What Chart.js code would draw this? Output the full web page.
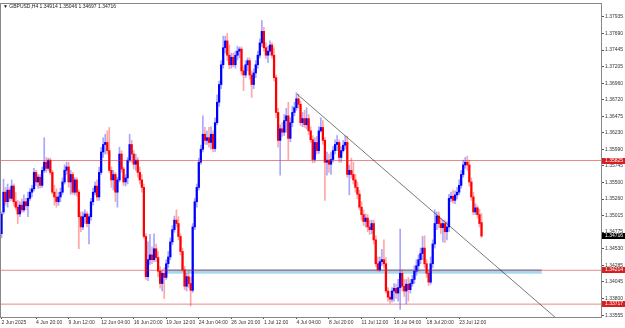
<!DOCTYPE html>
<html><head><meta charset="utf-8">
<script src="https://cdn.jsdelivr.net/npm/chart.js@4.4.1/dist/chart.umd.min.js"></script>
<style>html,body{margin:0;padding:0;background:#fff;overflow:hidden}canvas{display:block}</style>
</head><body>
<canvas id="c" width="625" height="328" style="width:625px;height:328px"></canvas>
<script>
const symbolTitle = '\u25BC GBPUSD,H4 1.34914 1.35046 1.34697 1.34716';

const open = [1.3475,1.3507,1.3536,1.3522,1.3539,1.3527,1.3545,1.3522,1.3514,1.3504,1.3517,1.3510,1.3522,1.3516,1.3527,1.3536,1.3541,1.3565,1.3551,1.3558,
1.3546,1.3568,1.3580,1.3571,1.3583,1.3565,1.3536,1.3529,1.3522,1.3529,1.3536,1.3551,1.3568,1.3573,1.3551,1.3562,1.3536,1.3554,1.3536,1.3500,
1.3485,1.3500,1.3504,1.3490,1.3500,1.3522,1.3536,1.3545,1.3529,1.3565,1.3595,1.3606,1.3609,1.3597,1.3568,1.3554,1.3562,1.3536,1.3554,1.3592,
1.3570,1.3551,1.3557,1.3583,1.3606,1.3592,1.3577,1.3583,1.3565,1.3554,1.3543,1.3471,1.3412,1.3437,1.3444,1.3437,1.3453,1.3440,1.3420,1.3402,
1.3417,1.3411,1.3431,1.3441,1.3463,1.3481,1.3495,1.3490,1.3471,1.3449,1.3422,1.3398,1.3412,1.3402,1.3392,1.3485,1.3522,1.3543,1.3580,1.3599,
1.3621,1.3612,1.3616,1.3609,1.3621,1.3600,1.3638,1.3668,1.3694,1.3723,1.3748,1.3758,1.3737,1.3723,1.3734,1.3723,1.3737,1.3743,1.3746,1.3714,
1.3708,1.3723,1.3729,1.3708,1.3694,1.3711,1.3723,1.3737,1.3755,1.3772,1.3748,1.3737,1.3743,1.3752,1.3737,1.3704,1.3653,1.3612,1.3629,1.3624,
1.3641,1.3648,1.3615,1.3638,1.3653,1.3660,1.3673,1.3665,1.3638,1.3644,1.3635,1.3644,1.3626,1.3613,1.3584,1.3609,1.3597,1.3626,1.3631,1.3612,
1.3580,1.3583,1.3577,1.3584,1.3597,1.3606,1.3609,1.3587,1.3597,1.3605,1.3609,1.3562,1.3568,1.3562,1.3554,1.3543,1.3533,1.3514,1.3503,1.3493,
1.3498,1.3485,1.3481,1.3490,1.3466,1.3431,1.3422,1.3434,1.3437,1.3431,1.3391,1.3382,1.3379,1.3391,1.3395,1.3388,1.3396,1.3417,1.3398,1.3391,
1.3401,1.3393,1.3402,1.3408,1.3420,1.3428,1.3437,1.3446,1.3454,1.3431,1.3417,1.3404,1.3431,1.3460,1.3490,1.3501,1.3490,1.3484,1.3490,1.3478,
1.3485,1.3527,1.3530,1.3524,1.3532,1.3536,1.3546,1.3562,1.3576,1.3580,1.3576,1.3551,1.3529,1.3507,1.3513,1.3503,1.34914];

const high = [1.3507,1.3555,1.3543,1.3548,1.3543,1.3554,1.3548,1.3536,1.3524,1.3522,1.3526,1.3532,1.3527,1.3536,1.3541,1.3546,1.3571,1.3568,1.3562,1.3562,
1.3573,1.3616,1.3587,1.3586,1.3586,1.3568,1.3546,1.3541,1.3536,1.3542,1.3557,1.3576,1.3580,1.3580,1.3568,1.3565,1.3558,1.3557,1.3539,1.3507,
1.3507,1.3510,1.3507,1.3504,1.3527,1.3542,1.3551,1.3554,1.3573,1.3602,1.3616,1.3621,1.3626,1.3631,1.3573,1.3568,1.3565,1.3558,1.3602,1.3597,
1.3573,1.3562,1.3587,1.3621,1.3612,1.3597,1.3592,1.3587,1.3573,1.3562,1.3548,1.3475,1.3463,1.3474,1.3456,1.3475,1.3460,1.3449,1.3427,1.3422,
1.3425,1.3437,1.3449,1.3469,1.3487,1.3501,1.3510,1.3500,1.3475,1.3454,1.3427,1.3417,1.3420,1.3411,1.3490,1.3527,1.3548,1.3586,1.3605,1.3648,
1.3631,1.3626,1.3631,1.3632,1.3626,1.3645,1.3679,1.3699,1.3729,1.3765,1.3765,1.3769,1.3752,1.3740,1.3740,1.3743,1.3750,1.3749,1.3749,1.3721,
1.3729,1.3733,1.3733,1.3714,1.3717,1.3729,1.3743,1.3761,1.3788,1.3778,1.3755,1.3750,1.3758,1.3755,1.3748,1.3708,1.3659,1.3635,1.3638,1.3650,
1.3659,1.3668,1.3645,1.3662,1.3668,1.3682,1.3680,1.3670,1.3653,1.3656,1.3660,1.3650,1.3632,1.3619,1.3616,1.3618,1.3632,1.3645,1.3641,1.3616,
1.3595,1.3592,1.3595,1.3603,1.3613,1.3619,1.3613,1.3603,1.3612,1.3619,1.3618,1.3576,1.3586,1.3580,1.3562,1.3551,1.3539,1.3522,1.3510,1.3504,
1.3503,1.3495,1.3495,1.3495,1.3472,1.3441,1.3441,1.3452,1.3466,1.3440,1.3396,1.3391,1.3396,1.3402,1.3401,1.3408,1.3482,1.3422,1.3408,1.3408,
1.3411,1.3408,1.3414,1.3428,1.3437,1.3444,1.3454,1.3471,1.3472,1.3437,1.3422,1.3441,1.3466,1.3510,1.3507,1.3507,1.3498,1.3495,1.3495,1.3493,
1.3533,1.3536,1.3539,1.3538,1.3543,1.3554,1.3568,1.3583,1.3587,1.3589,1.3583,1.3557,1.3536,1.3519,1.3516,1.3511,1.35046];

const low = [1.3469,1.3504,1.3517,1.3514,1.3522,1.3524,1.3516,1.3510,1.3490,1.3500,1.3506,1.3507,1.3510,1.3500,1.3524,1.3529,1.3538,1.3546,1.3542,1.3542,
1.3543,1.3565,1.3565,1.3568,1.3562,1.3533,1.3517,1.3514,1.3517,1.3522,1.3533,1.3548,1.3562,1.3543,1.3533,1.3533,1.3532,1.3530,1.3453,1.3478,
1.3481,1.3490,1.3485,1.3460,1.3495,1.3517,1.3532,1.3524,1.3524,1.3562,1.3587,1.3592,1.3592,1.3565,1.3543,1.3539,1.3522,1.3514,1.3551,1.3565,
1.3546,1.3545,1.3548,1.3580,1.3580,1.3570,1.3568,1.3558,1.3548,1.3536,1.3468,1.3408,1.3406,1.3430,1.3431,1.3434,1.3434,1.3412,1.3395,1.3391,
1.3380,1.3408,1.3425,1.3437,1.3459,1.3477,1.3485,1.3466,1.3444,1.3420,1.3393,1.3391,1.3396,1.3369,1.3389,1.3481,1.3514,1.3539,1.3577,1.3595,
1.3606,1.3606,1.3602,1.3599,1.3595,1.3596,1.3635,1.3662,1.3688,1.3718,1.3740,1.3729,1.3717,1.3718,1.3720,1.3718,1.3730,1.3733,1.3708,1.3685,
1.3704,1.3714,1.3702,1.3675,1.3688,1.3704,1.3718,1.3733,1.3750,1.3743,1.3732,1.3726,1.3737,1.3733,1.3699,1.3645,1.3602,1.3561,1.3618,1.3619,
1.3624,1.3584,1.3610,1.3632,1.3648,1.3656,1.3659,1.3634,1.3632,1.3631,1.3629,1.3621,1.3609,1.3579,1.3580,1.3592,1.3593,1.3624,1.3606,1.3524,
1.3561,1.3565,1.3562,1.3580,1.3592,1.3597,1.3580,1.3580,1.3595,1.3599,1.3558,1.3532,1.3557,1.3548,1.3536,1.3526,1.3510,1.3495,1.3487,1.3485,
1.3478,1.3474,1.3475,1.3460,1.3427,1.3420,1.3420,1.3428,1.3425,1.3388,1.3376,1.3373,1.3375,1.3376,1.3380,1.3376,1.3364,1.3391,1.3383,1.3372,
1.3376,1.3388,1.3398,1.3402,1.3414,1.3420,1.3431,1.3437,1.3425,1.3411,1.3399,1.3401,1.3425,1.3454,1.3481,1.3484,1.3475,1.3463,1.3462,1.3466,
1.3478,1.3522,1.3520,1.3519,1.3526,1.3532,1.3542,1.3558,1.3571,1.3568,1.3545,1.3524,1.3503,1.3503,1.3498,1.3485,1.34697];

const close = [1.3504,1.3536,1.3522,1.3539,1.3527,1.3545,1.3522,1.3514,1.3504,1.3517,1.3510,1.3522,1.3516,1.3527,1.3536,1.3541,1.3565,1.3551,1.3558,1.3546,
1.3568,1.3580,1.3571,1.3583,1.3565,1.3536,1.3529,1.3522,1.3529,1.3536,1.3551,1.3568,1.3573,1.3551,1.3562,1.3536,1.3554,1.3536,1.3500,1.3485,
1.3500,1.3504,1.3490,1.3500,1.3522,1.3536,1.3545,1.3529,1.3565,1.3595,1.3606,1.3609,1.3597,1.3568,1.3554,1.3562,1.3536,1.3554,1.3592,1.3570,
1.3551,1.3557,1.3583,1.3606,1.3592,1.3577,1.3583,1.3565,1.3554,1.3543,1.3471,1.3412,1.3437,1.3444,1.3437,1.3453,1.3440,1.3420,1.3402,1.3417,
1.3411,1.3431,1.3441,1.3463,1.3481,1.3495,1.3490,1.3471,1.3449,1.3422,1.3398,1.3412,1.3402,1.3392,1.3485,1.3522,1.3543,1.3580,1.3599,1.3621,
1.3612,1.3616,1.3609,1.3621,1.3600,1.3638,1.3668,1.3694,1.3723,1.3748,1.3758,1.3737,1.3723,1.3734,1.3723,1.3737,1.3743,1.3746,1.3714,1.3708,
1.3723,1.3729,1.3708,1.3694,1.3711,1.3723,1.3737,1.3755,1.3772,1.3748,1.3737,1.3743,1.3752,1.3737,1.3704,1.3653,1.3612,1.3629,1.3624,1.3641,
1.3648,1.3615,1.3638,1.3653,1.3660,1.3673,1.3665,1.3638,1.3644,1.3635,1.3644,1.3626,1.3613,1.3584,1.3609,1.3597,1.3626,1.3631,1.3612,1.3580,
1.3583,1.3577,1.3584,1.3597,1.3606,1.3609,1.3587,1.3597,1.3605,1.3609,1.3562,1.3568,1.3562,1.3554,1.3543,1.3533,1.3514,1.3503,1.3493,1.3498,
1.3485,1.3481,1.3490,1.3466,1.3431,1.3422,1.3434,1.3437,1.3431,1.3391,1.3382,1.3379,1.3391,1.3395,1.3388,1.3396,1.3417,1.3398,1.3391,1.3401,
1.3393,1.3402,1.3408,1.3420,1.3428,1.3437,1.3446,1.3454,1.3431,1.3417,1.3404,1.3431,1.3460,1.3490,1.3501,1.3490,1.3484,1.3490,1.3478,1.3485,
1.3527,1.3530,1.3524,1.3532,1.3536,1.3546,1.3562,1.3576,1.3580,1.3576,1.3551,1.3529,1.3507,1.3513,1.3503,1.3490,1.34716];

const xTickIndex = [0,17,33,49,65,81,97,113,129,145,161,177,193,209,225];
const xTickLabels = ['2 Jun 2025','4 Jun 20:00','9 Jun 12:00','12 Jun 04:00','16 Jun 20:00','19 Jun 12:00','24 Jun 04:00','26 Jun 20:00','1 Jul 12:00','4 Jul 04:00','8 Jul 20:00','11 Jul 12:00','16 Jul 04:00','18 Jul 20:00','23 Jul 12:00'];
const yTickValues = [1.37935,1.37690,1.37445,1.37205,1.36960,1.36720,1.36475,1.36230,1.35990,1.35745,1.35500,1.35260,1.35015,1.34775,1.34530,1.34285,1.34045,1.33800,1.33555];

const levelLines = [1.35825, 1.34214, 1.33717];
const zoneBars = [81, 265.6];
const zonePrices = [1.34164, 1.34225];
const trendBars = [145.3, 280];
const trendPrices = [1.36799, 1.33323];

const xMin = -0.246, xMax = 294.74;
const yMin = 1.335285, yMax = 1.381215;
const FONT = "'Liberation Sans', Arial, sans-serif";

const bull = close.map((c, i) => c >= open[i]);
const bodyColors = bull.map(b => b ? '#0000ff' : '#ff0000');
const wickColors = bull.map(b => b ? 'rgba(80,80,255,0.5)' : 'rgba(255,80,80,0.5)');

const datasets = [
  { type: 'bar', label: 'wick', data: close.map((c, i) => ({ x: i, y: [low[i], high[i]] })),
    backgroundColor: wickColors, barThickness: 1, grouped: false, order: 3, borderWidth: 0 },
  { type: 'bar', label: 'body', data: close.map((c, i) => ({ x: i, y: [open[i], c] })),
    backgroundColor: bodyColors, barThickness: 1.6, grouped: false, order: 2, borderWidth: 0, minBarLength: 1 }
];
levelLines.forEach(v => datasets.push({
  type: 'line', data: [{ x: xMin, y: v }, { x: xMax, y: v }],
  borderColor: 'rgba(215,40,40,0.55)', borderWidth: 1, pointRadius: 0, order: 1
}));
datasets.push({
  type: 'line', data: trendBars.map((b, i) => ({ x: b, y: trendPrices[i] })),
  borderColor: 'rgba(30,30,30,0.75)', borderWidth: 0.8, pointRadius: 0, order: 0
});

const decor = {
  id: 'decor',
  beforeDatasetsDraw(chart) {
    const { ctx, chartArea: a, scales: { x, y } } = chart;
    ctx.save();
    ctx.beginPath(); ctx.rect(a.left, a.top, a.right - a.left, a.bottom - a.top); ctx.clip();
    const x0 = x.getPixelForValue(zoneBars[0]), x1 = x.getPixelForValue(zoneBars[1]);
    const yT = y.getPixelForValue(zonePrices[1]), yB = y.getPixelForValue(zonePrices[0]);
    ctx.fillStyle = '#a3d8f4';
    ctx.fillRect(x0, yT, x1 - x0, yB - yT);
    ctx.fillStyle = 'rgba(70,120,160,0.6)';
    ctx.fillRect(x0, yT, x1 - x0, 1);
    ctx.restore();
  },
  afterDraw(chart) {
    const { ctx, chartArea: a, scales: { y } } = chart;
    ctx.save();
    ctx.strokeStyle = '#888'; ctx.lineWidth = 1;
    ctx.strokeRect(a.left - 0.5, a.top - 0.5, a.right - a.left + 1, a.bottom - a.top + 1);
    ctx.font = '5px ' + FONT;
    ctx.textBaseline = 'middle'; ctx.textAlign = 'left';
    const box = (v, bg) => {
      const yy = y.getPixelForValue(v);
      ctx.fillStyle = bg; ctx.fillRect(a.right + 1, Math.round(yy) - 3, 23, 6);
      ctx.fillStyle = '#fff'; ctx.fillText(v.toFixed(5), a.right + 4, Math.round(yy));
    };
    levelLines.forEach(v => box(v, '#d42020'));
    box(close[close.length - 1], '#000');
    ctx.fillStyle = '#222'; ctx.font = '5px ' + FONT; ctx.textBaseline = 'middle';
    ctx.fillText(symbolTitle, 3, 6.5);
    ctx.restore();
  }
};

new Chart(document.getElementById('c'), {
  type: 'bar',
  data: { datasets },
  plugins: [decor],
  options: {
    responsive: false, animation: false, devicePixelRatio: 1,
    layout: { padding: { left: 1, top: 1, right: 0, bottom: 0 } },
    plugins: { legend: { display: false }, tooltip: { enabled: false }, title: { display: false } },
    scales: {
      x: {
        type: 'linear', min: xMin, max: xMax, offset: false,
        afterBuildTicks: s => { s.ticks = xTickIndex.map(v => ({ value: v })); },
        afterFit: s => { s.height = 11; },
        ticks: { autoSkip: false, maxRotation: 0, minRotation: 0, align: 'start', padding: 1,
                 font: { size: 5, family: FONT }, color: '#333', callback: (v, i) => xTickLabels[i] },
        grid: { drawOnChartArea: false, drawTicks: true, tickLength: 2, color: '#555', offset: false },
        border: { display: false }
      },
      y: {
        type: 'linear', position: 'right', min: yMin, max: yMax,
        afterBuildTicks: s => { s.ticks = yTickValues.map(v => ({ value: v })); },
        afterFit: s => { s.width = 24; },
        ticks: { padding: 1, font: { size: 5, family: FONT }, color: '#333', callback: v => v.toFixed(5) },
        grid: { drawOnChartArea: false, drawTicks: true, tickLength: 3, color: '#555' },
        border: { display: false }
      }
    }
  }
});
</script>
</body></html>
